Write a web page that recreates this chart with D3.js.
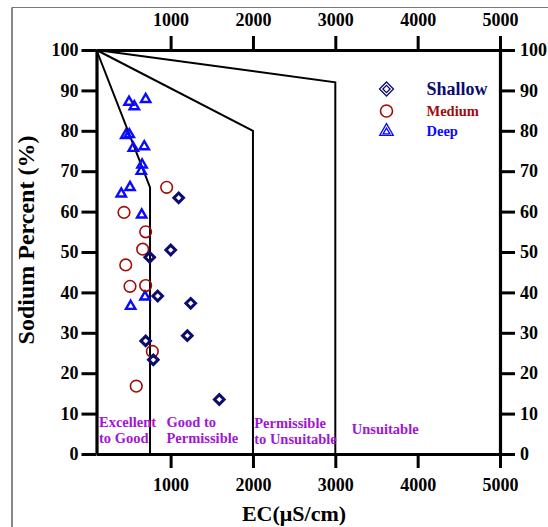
<!DOCTYPE html>
<html><head><meta charset="utf-8">
<script src="https://cdn.jsdelivr.net/npm/d3@7"></script>
<style>body{margin:0;background:#fff}</style>
</head><body>
<script>
// ---- data ----
const xTicks = [1000, 2000, 3000, 4000, 5000];
const yTicks = [0, 10, 20, 30, 40, 50, 60, 70, 80, 90, 100];
const shallowEC = [1098, 1001, 746, 843, 1244, 1203, 697, 790, 1591];
const shallowNa = [63.4, 50.5, 48.7, 39.1, 37.3, 29.3, 28.0, 23.3, 13.5];
const mediumEC = [952, 434, 697, 661, 455, 507, 697, 778, 583];
const mediumNa = [66.0, 59.8, 55.0, 50.7, 46.8, 41.5, 41.7, 25.4, 16.8];
const deepEC = [495, 559, 697, 455, 498, 547, 680, 653, 644, 401, 507, 649, 689, 515];
const deepNa = [87.1, 86.0, 87.8, 78.9, 79.1, 75.7, 76.1, 71.6, 70.0, 64.4, 66.0, 59.2, 38.9, 36.6];
const boundary1EC = [100, 750, 750], boundary1Na = [100, 66, 0];
const boundary2EC = [100, 2000, 2000], boundary2Na = [100, 80, 0];
const boundary3EC = [100, 3000, 3000], boundary3Na = [100, 92, 0];
const zoneLabels = [
  {lines: ["Excellent", "to Good"], ec: 130, na: 6.8},
  {lines: ["Good to", "Permissible"], ec: 950, na: 6.8},
  {lines: ["Permissible", "to Unsuitable"], ec: 2015, na: 6.5},
  {lines: ["Unsuitable"], ec: 3200, na: 4.9}
];
const legendItems = ["Shallow", "Medium", "Deep"];

// ---- layout ----
const W = 548, H = 527;
const FONT = "'Liberation Serif','Times New Roman',serif";
const svg = d3.select("body").append("svg").attr("width", W).attr("height", H)
  .style("font-family", FONT);

const x = d3.scaleLinear().domain([100, 5000]).range([96.5, 500]);
const y = d3.scaleLinear().domain([0, 100]).range([454, 50]);

// outer frame (partial)
svg.append("line").attr("x1", 12).attr("x2", W).attr("y1", 7.5).attr("y2", 7.5)
  .attr("stroke", "#7a7a7a").attr("stroke-width", 1.2);
svg.append("line").attr("x1", 12).attr("x2", 12).attr("y1", 7.5).attr("y2", H)
  .attr("stroke", "#3a3a3a").attr("stroke-width", 1.2);

// boundary lines
const line = d3.line();
function boundary(ecs, nas) {
  svg.append("path")
    .attr("d", line(ecs.map((e, i) => [x(e), y(nas[i])])))
    .attr("fill", "none").attr("stroke", "#000").attr("stroke-width", 2);
}
boundary(boundary1EC, boundary1Na);
boundary(boundary2EC, boundary2Na);
boundary(boundary3EC, boundary3Na);

// axes
const fmt = d3.format("d");
function styleAxis(g) {
  g.selectAll("path.domain").attr("stroke-width", 3.2);
  g.selectAll(".tick line").attr("stroke-width", 3);
  g.selectAll(".tick text").attr("font-family", FONT).attr("font-weight", "bold")
    .attr("font-size", 18).attr("fill", "#000");
}
svg.append("g").attr("transform", `translate(${x(100)},0)`)
  .call(d3.axisLeft(y).tickValues(yTicks).tickFormat(fmt).tickSize(15).tickSizeOuter(0).tickPadding(3))
  .call(styleAxis);
svg.append("g").attr("transform", `translate(${x(5000)},0)`)
  .call(d3.axisRight(y).tickValues(yTicks).tickFormat(fmt).tickSize(15).tickSizeOuter(0).tickPadding(5))
  .call(styleAxis);
svg.append("g").attr("transform", `translate(0,${y(100)})`)
  .call(d3.axisTop(x).tickValues(xTicks).tickFormat(fmt).tickSize(14).tickSizeOuter(0).tickPadding(10))
  .call(styleAxis);
svg.append("g").attr("transform", `translate(0,${y(0)})`)
  .call(d3.axisBottom(x).tickValues(xTicks).tickFormat(fmt).tickSize(14).tickSizeOuter(0).tickPadding(10))
  .call(styleAxis);

// axis titles
svg.append("text").attr("transform", `translate(34,240) rotate(-90)`)
  .attr("text-anchor", "middle").attr("font-weight", "bold").attr("font-size", 24)
  .text("Sodium Percent (%)");
svg.append("text").attr("x", 294).attr("y", 521)
  .attr("text-anchor", "middle").attr("font-weight", "bold").attr("font-size", 22)
  .text("EC(\u03BCS/cm)");

// zone labels
const zg = svg.append("g").attr("fill", "#a116d4").attr("font-weight", "bold").attr("font-size", 14.5);
zoneLabels.forEach(z => {
  z.lines.forEach((t, i) => {
    zg.append("text").attr("x", x(z.ec)).attr("y", y(z.na) + i * 16).text(t);
  });
});

// markers
const colShallow = "#0c0c6e", colMedium = "#a00c0c", colDeep = "#0a0aff";
const diamondPath = r => `M0,${-r}L${r},0L0,${r}L${-r},0Z`;
const triSym = d3.symbol().type(d3.symbolTriangle).size(38);

svg.append("g").selectAll("path").data(deepEC).join("path")
  .attr("transform", (d, i) => `translate(${x(d)},${y(deepNa[i])})`)
  .attr("d", triSym()).attr("fill", "none").attr("stroke", colDeep).attr("stroke-width", 2.4);
svg.append("g").selectAll("circle").data(mediumEC).join("circle")
  .attr("cx", d => x(d)).attr("cy", (d, i) => y(mediumNa[i])).attr("r", 5.8)
  .attr("fill", "none").attr("stroke", colMedium).attr("stroke-width", 1.6);
svg.append("g").selectAll("path").data(shallowEC).join("path")
  .attr("transform", (d, i) => `translate(${x(d)},${y(shallowNa[i])})`)
  .attr("d", diamondPath(4.8)).attr("fill", "none").attr("stroke", colShallow).attr("stroke-width", 3);

// legend
const lg = svg.append("g");
lg.append("path").attr("transform", "translate(386.5,89)").attr("d", diamondPath(7))
  .attr("fill", "none").attr("stroke", colShallow).attr("stroke-width", 1.3);
lg.append("path").attr("transform", "translate(386.5,89)").attr("d", diamondPath(3.6))
  .attr("fill", "none").attr("stroke", colShallow).attr("stroke-width", 1.3);
lg.append("circle").attr("cx", 386.5).attr("cy", 111).attr("r", 6)
  .attr("fill", "none").attr("stroke", colMedium).attr("stroke-width", 1.6);
lg.append("path").attr("transform", "translate(386.5,131.5)")
  .attr("d", d3.symbol().type(d3.symbolTriangle).size(80)())
  .attr("fill", "none").attr("stroke", colDeep).attr("stroke-width", 1.3);
lg.append("path").attr("transform", "translate(386.5,132)")
  .attr("d", d3.symbol().type(d3.symbolTriangle).size(20)())
  .attr("fill", "none").attr("stroke", colDeep).attr("stroke-width", 1.3);
const legendCols = [colShallow, colMedium, colDeep];
const legendY = [95, 116, 136];
const legendSize = [18, 14.5, 14.5];
legendItems.forEach((t, i) => {
  lg.append("text").attr("x", 426.5).attr("y", legendY[i]).attr("fill", legendCols[i])
    .attr("font-weight", "bold").attr("font-size", legendSize[i]).text(t);
});
</script>
</body></html>
